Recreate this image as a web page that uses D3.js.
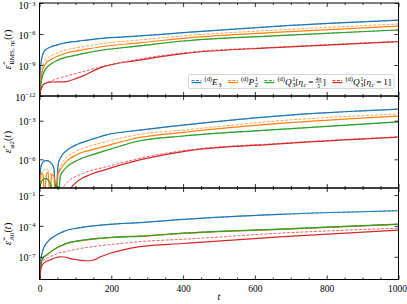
<!DOCTYPE html>
<html>
<head>
<meta charset="utf-8">
<script src="https://cdn.jsdelivr.net/npm/d3@7"></script>
<style>
  body { margin: 0; background: #fff; }
  text { font-family: "Liberation Serif", "DejaVu Serif", serif; fill: #000; }
</style>
</head>
<body>
<div id="chart"></div>
<script>
// sample times, one grid per panel
const tTop = [0, 2, 5, 10, 20, 28, 47, 75, 103, 121, 167, 279, 400, 669, 1000];
const tMid = [0, 3, 6, 10, 14, 19, 24, 29, 34, 40, 46, 52, 58, 65, 77, 87, 100, 120, 140, 184, 279, 400, 669, 1000];
const tBot = [0, 2, 5, 10, 19, 28, 40, 56, 60, 74, 84, 100, 121, 130, 149, 170, 195, 230, 279, 400, 669, 1000];

// log10 of the errors, top panel (RMS)
const rmsE3 = [-12.5, -9.6, -8.6, -7.9, -7.45, -7.3, -7.07, -6.84, -6.71, -6.63, -6.44, -6.19, -5.87, -5.23, -4.65];
const rmsP2 = [-12.5, -11.2, -10.1, -9.35, -8.75, -8.55, -8.2, -7.84, -7.64, -7.53, -7.26, -6.85, -6.42, -5.82, -5.23];
const rmsP2d = [-12.5, -10.8, -9.7, -9.0, -8.4, -8.2, -7.87, -7.52, -7.34, -7.23, -6.97, -6.58, -6.18, -5.6, -5.03];
const rmsQa = [-12.5, -11.5, -10.6, -9.9, -9.25, -9.0, -8.6, -8.24, -8.04, -7.9, -7.6, -7.15, -6.68, -6.15, -5.61];
const rmsQb = [-12.5, -11.5, -11.3, -10.9, -10.72, -10.66, -10.64, -10.6, -10.3, -10.05, -9.3, -8.52, -7.9, -7.3, -6.75];
const rmsQbd = [-12.5, -11.5, -11.25, -10.95, -10.75, -10.62, -10.35, -10.07, -9.8, -9.65, -9.2, -8.42, -7.83, -7.26, -6.72];

// middle panel (phi)
const phiE3 = [-9, -6.75, -6.4, -6.2, -6.12, -6.1, -6.12, -6.2, -6.35, -6.7, -8.8, -6.4, -5.9, -5.6, -5.28, -5.1, -4.9, -4.68, -4.5, -4.12, -3.73, -3.34, -2.62, -2.1];
const phiP2 = [-9, -7.4, -7.1, -7.2, -9, -7.2, -7.0, -9, -7.15, -7.3, -9, -7.1, -6.8, -6.5, -6.1, -5.9, -5.7, -5.45, -5.3, -4.97, -4.3, -3.9, -3.21, -2.64];
const phiP2d = [-9, -7.5, -7.1, -6.9, -6.82, -6.8, -6.88, -7.05, -7.4, -7.8, -9, -7.1, -6.6, -6.2, -5.8, -5.6, -5.4, -5.15, -4.98, -4.64, -4.06, -3.73, -3.0, -2.48];
const phiQa = [-9, -8.0, -7.7, -7.55, -7.5, -7.5, -7.6, -7.8, -8.2, -9, -7.9, -9, -7.3, -6.95, -6.57, -6.35, -6.15, -5.9, -5.7, -5.33, -4.56, -4.19, -3.67, -3.09];
const phiQb = [null, null, null, null, null, null, null, null, null, null, null, null, null, null, -9.5, -8.3, -7.85, -7.45, -7.2, -6.8, -6.05, -5.4, -4.8, -4.28];
const phiQbd = [null, null, null, null, null, null, null, null, null, null, null, null, -9.5, -8.3, -7.8, -7.55, -7.35, -7.1, -6.9, -6.6, -5.92, -5.33, -4.76, -4.25];

// bottom panel (A0)
const aE3 = [-10, -7.8, -7.0, -6.3, -5.69, -5.35, -5.05, -4.71, -4.66, -4.45, -4.35, -4.25, -4.13, -4.08, -4.0, -3.93, -3.85, -3.77, -3.68, -3.37, -2.88, -2.53];
const aP2 = [-10, -8.42, -7.53, -7.12, -6.87, -6.62, -6.32, -6.0, -5.94, -5.74, -5.62, -5.52, -5.41, -5.36, -5.28, -5.22, -5.15, -5.08, -5.02, -4.73, -4.34, -3.85];
const aQa = [-10, -8.4, -7.51, -7.1, -6.85, -6.6, -6.3, -5.98, -5.92, -5.72, -5.6, -5.5, -5.39, -5.34, -5.26, -5.2, -5.13, -5.06, -5.0, -4.71, -4.32, -3.83];
const aQb = [-10, -8.9, -7.99, -7.7, -7.45, -7.34, -7.15, -7.02, -7.0, -7.05, -7.15, -7.27, -7.37, -7.39, -7.34, -7.0, -6.68, -6.35, -6.02, -5.71, -5.06, -4.41];
const aQbd = [-10, -8.3, -7.63, -7.4, -7.15, -7.0, -6.85, -6.6, -6.57, -6.51, -6.4, -6.3, -6.15, -6.1, -6.02, -5.92, -5.82, -5.7, -5.53, -5.3, -4.71, -4.22];

const xTicks = [0, 200, 400, 600, 800, 1000];
const colors = ['#1f77b4', '#ff7f0e', '#2ca02c', '#d62728'];

const W = 407, H = 304;
const left = 39.5, right = 398.5;

const svg = d3.select('#chart').append('svg')
	.attr('width', W)
	.attr('height', H);

const x = d3.scaleLinear().domain([0, 1000]).range([left, right]);

const panels = [
	{ top: 3, bottom: 96, dom: [-12, -3], ticks: [-12, -9, -6, -3], t: tTop,
		series: [[rmsE3, rmsE3], [rmsP2, rmsP2d], [rmsQa, rmsQa], [rmsQb, rmsQbd]] },
	{ top: 96, bottom: 188, dom: [-8.23, -1.08], ticks: [-6, -3], t: tMid,
		series: [[phiE3, phiE3], [phiP2, phiP2d], [phiQa, phiQa], [phiQb, phiQbd]] },
	{ top: 188, bottom: 279.5, dom: [-9.21, -0.32], ticks: [-7, -4, -1], t: tBot,
		series: [[aE3, aE3], [aP2, aP2], [aQa, aQa], [aQb, aQbd]] }
];

// small helper to lay out math-ish text piece by piece
function math(parent, parts, size) {
	const g = parent.append('g');
	let cx = 0, lastX = 0;
	parts.forEach(p => {
		if (p.frac) {
			const fs = size * 0.62;
			const num = g.append('text').attr('font-size', fs).attr('y', -size * 0.45).text(p.frac[0]);
			const den = g.append('text').attr('font-size', fs).attr('y', size * 0.3).text(p.frac[1]);
			const w = Math.max(num.node().getComputedTextLength(), den.node().getComputedTextLength()) + 1;
			num.attr('x', cx + w / 2).attr('text-anchor', 'middle');
			den.attr('x', cx + w / 2).attr('text-anchor', 'middle');
			g.append('line').attr('x1', cx).attr('x2', cx + w)
				.attr('y1', -size * 0.3).attr('y2', -size * 0.3)
				.attr('stroke', '#000').attr('stroke-width', 0.5);
			cx += w + 0.8;
			return;
		}
		const fs = size * (p.s ? 0.7 : 1);
		const dy = p.s === 'sup' ? -size * 0.4 : p.s === 'sub' ? size * 0.25 : 0;
		const sx = p.stack ? lastX : cx;
		const el = g.append('text')
			.attr('x', sx)
			.attr('y', dy)
			.attr('font-size', fs)
			.attr('font-style', p.i ? 'italic' : 'normal')
			.text(p.t);
		const w = el.node().getComputedTextLength() + (p.i && !p.s ? 0.6 : 0);
		lastX = sx;
		cx = Math.max(cx, sx + w);
	});
	return { g, width: cx };
}

const line = d3.line().curve(d3.curveMonotoneX);

panels.forEach((p, pi) => {
	const y = d3.scaleLog()
		.domain([Math.pow(10, p.dom[0]), Math.pow(10, p.dom[1])])
		.range([p.bottom, p.top]);

	const clipId = 'clip' + pi;
	svg.append('clipPath').attr('id', clipId)
		.append('rect')
		.attr('x', left).attr('y', p.top)
		.attr('width', right - left).attr('height', p.bottom - p.top);

	const plot = svg.append('g').attr('clip-path', `url(#${clipId})`);

	p.series.forEach(([solid, dashed], si) => {
		const toPts = arr => p.t.map((t, i) => [t, arr[i]]);
		const gen = line
			.defined(d => d[1] != null)
			.x(d => x(d[0]))
			.y(d => y(Math.pow(10, d[1])));

		plot.append('path')
			.attr('d', gen(toPts(solid)))
			.attr('fill', 'none')
			.attr('stroke', colors[si])
			.attr('stroke-width', 1.2);

		plot.append('path')
			.attr('d', gen(toPts(dashed)))
			.attr('fill', 'none')
			.attr('stroke', colors[si])
			.attr('stroke-width', 1)
			.attr('stroke-opacity', 0.7)
			.attr('stroke-dasharray', '3,1.5');
	});

	// ticks, all pointing in
	const major = xTicks;
	const minor = d3.range(0, 1001, 50).filter(v => v % 200 !== 0);
	const bottomAxis = svg.append('g').attr('transform', `translate(0,${p.bottom})`)
		.call(d3.axisBottom(x).tickValues(major).tickSizeInner(-4).tickSizeOuter(0).tickPadding(6)
			.tickFormat(pi === 2 ? d3.format('d') : () => ''));
	svg.append('g').attr('transform', `translate(0,${p.bottom})`)
		.call(d3.axisBottom(x).tickValues(minor).tickSizeInner(-2).tickSizeOuter(0).tickFormat(() => ''));
	svg.append('g').attr('transform', `translate(0,${p.top})`)
		.call(d3.axisTop(x).tickValues(major).tickSizeInner(-4).tickSizeOuter(0).tickFormat(() => ''));
	svg.append('g').attr('transform', `translate(0,${p.top})`)
		.call(d3.axisTop(x).tickValues(minor).tickSizeInner(-2).tickSizeOuter(0).tickFormat(() => ''));

	const yVals = p.ticks.map(e => Math.pow(10, e));
	const leftAxis = svg.append('g').attr('transform', `translate(${left},0)`)
		.call(d3.axisLeft(y).tickValues(yVals).tickSizeInner(-4).tickSizeOuter(0).tickPadding(4).tickFormat(() => ''));
	svg.append('g').attr('transform', `translate(${right},0)`)
		.call(d3.axisRight(y).tickValues(yVals).tickSizeInner(-4).tickSizeOuter(0).tickFormat(() => ''));

	leftAxis.selectAll('.tick text').each(function (d) {
		// the topmost label sits on the figure edge; nudge it just inside
		const edge = y(d) - 5 < 2;
		const t = d3.select(this).attr('font-size', 10).attr('dy', edge ? '0.55em' : '0.42em');
		t.append('tspan').text('10');
		t.append('tspan').attr('font-size', 6.5).attr('dy', '-0.5em')
			.text('\u2212' + Math.round(-Math.log10(d)));
	});
	bottomAxis.selectAll('.tick text').attr('font-size', 9.5)
		.attr('dx', d => d === 1000 ? -1.5 : 0);

	svg.selectAll('.domain').remove();
	svg.selectAll('.tick line').attr('stroke', '#000').attr('stroke-width', 0.8);

	svg.append('rect')
		.attr('x', left).attr('y', p.top)
		.attr('width', right - left).attr('height', p.bottom - p.top)
		.attr('fill', 'none').attr('stroke', '#000').attr('stroke-width', 1);
});

// y labels
const eps = 'ε\u0302';
const yLabels = [
	[{ t: eps, i: 1 }, { t: 'RMS, η', s: 'sub' }, { t: 'c', s: 'sub', i: 1 }, { t: '(' }, { t: 't', i: 1 }, { t: ')' }],
	[{ t: eps, i: 1 }, { t: 'φ', s: 'sub', i: 1 }, { t: '2', s: 'sub' }, { t: '(' }, { t: 't', i: 1 }, { t: ')' }],
	[{ t: eps, i: 1 }, { t: 'A', s: 'sub', i: 1 }, { t: '0', s: 'sub' }, { t: '(' }, { t: 't', i: 1 }, { t: ')' }]
];

panels.forEach((p, pi) => {
	const holder = svg.append('g');
	const m = math(holder, yLabels[pi], 10);
	const cy = (p.top + p.bottom) / 2;
	holder.attr('transform', `translate(11,${cy}) rotate(-90) translate(${-m.width / 2},0)`);
});

// x label
svg.append('text')
	.attr('x', (left + right) / 2)
	.attr('y', 300)
	.attr('text-anchor', 'middle')
	.attr('font-size', 10)
	.attr('font-style', 'italic')
	.text('t');

// legend
const legendNames = [
	[{ t: '(d)', s: 'sup' }, { t: 'E', i: 1 }, { t: '3', s: 'sub' }],
	[{ t: '(d)', s: 'sup' }, { t: 'P', i: 1 }, { t: '1', s: 'sup' }, { t: '2', s: 'sub', stack: 1 }],
	[{ t: '(d)', s: 'sup' }, { t: 'Q', i: 1 }, { t: '1', s: 'sup' }, { t: '3', s: 'sub', stack: 1 },
		{ t: '[' }, { t: 'η', i: 1 }, { t: 'c', s: 'sub', i: 1 }, { t: '\u2009=\u2009' }, { frac: ['4π', '5'] }, { t: ']' }],
	[{ t: '(d)', s: 'sup' }, { t: 'Q', i: 1 }, { t: '1', s: 'sup' }, { t: '3', s: 'sub', stack: 1 },
		{ t: '[' }, { t: 'η', i: 1 }, { t: 'c', s: 'sub', i: 1 }, { t: '\u2009=\u20091]' }]
];

const legend = svg.append('g');
const box = legend.append('rect');
const ly = 81.8;
let lx = 187;
legendNames.forEach((parts, i) => {
	legend.append('line').attr('x1', lx).attr('x2', lx + 10).attr('y1', ly - 1.2).attr('y2', ly - 1.2)
		.attr('stroke', colors[i]).attr('stroke-width', 1).attr('stroke-dasharray', '3,1.5');
	legend.append('line').attr('x1', lx).attr('x2', lx + 10).attr('y1', ly + 0.8).attr('y2', ly + 0.8)
		.attr('stroke', colors[i]).attr('stroke-width', 1.2);
	const m = math(legend, parts, 9.2);
	m.g.attr('transform', `translate(${lx + 13},${ly + 3})`);
	lx += 13 + m.width + 6.5;
});
const bx = 184, bw = lx - 6.5 + 3 - bx;
box.attr('x', bx).attr('y', 74.5).attr('width', bw).attr('height', 14)
	.attr('rx', 1.5).attr('fill', '#fff').attr('fill-opacity', 0.8)
	.attr('stroke', '#ccc').attr('stroke-width', 0.8);
legend.attr('transform', `translate(${394 - (bx + bw)},0)`);
</script>
</body>
</html>
